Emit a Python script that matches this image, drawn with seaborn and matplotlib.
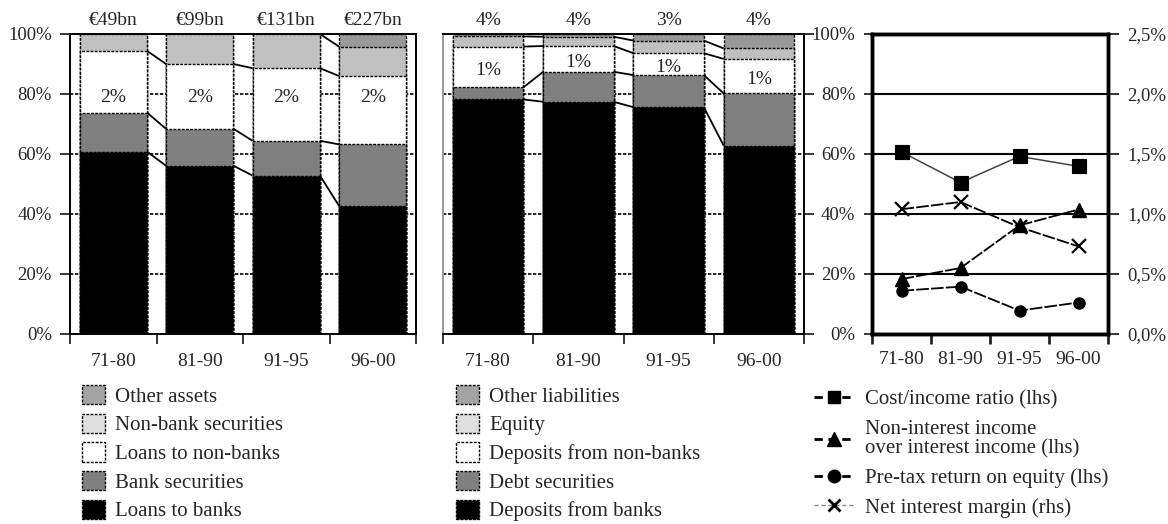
import numpy as np
import matplotlib
matplotlib.use("Agg")
import matplotlib.pyplot as plt
import matplotlib.patches as mpatches
from matplotlib.lines import Line2D
from matplotlib.ticker import FixedLocator, NullFormatter, FixedFormatter
import seaborn as sns

# ---------------- data ----------------
periods = ["71-80", "81-90", "91-95", "96-00"]

# assets (% of total), bottom -> top
loans_to_banks      = [60.8, 56.1, 52.8, 42.7]
bank_securities     = [13.0, 12.3, 11.6, 20.5]
loans_to_nonbanks   = [20.6, 21.6, 24.2, 22.8]
nonbank_securities  = [5.6, 10.0, 11.4, 9.8]
other_assets        = [0.0, 0.0, 0.0, 4.2]
asset_totals = ["€49bn", "€99bn", "€131bn", "€227bn"]
asset_inner = ["2%", "2%", "2%", "2%"]

# liabilities (% of total), bottom -> top
deposits_from_banks    = [78.2, 77.4, 75.6, 62.8]
debt_securities        = [4.0, 10.0, 10.7, 17.4]
deposits_from_nonbanks = [13.6, 8.6, 7.3, 11.5]
equity                 = [3.4, 3.1, 4.2, 3.5]
other_liabilities      = [0.8, 0.9, 2.2, 4.8]
liab_top = ["4%", "4%", "3%", "4%"]
liab_inner = ["1%", "1%", "1%", "1%"]

# profitability
cost_income   = [60.7, 50.5, 59.2, 55.9]   # lhs %
nonint_int    = [18.3, 22.0, 36.2, 41.5]   # lhs %
pretax_roe    = [14.4, 15.8, 7.8, 10.5]    # lhs %
net_int_margin = [1.04, 1.10, 0.89, 0.73]  # rhs %

asset_names = ["Loans to banks", "Bank securities", "Loans to non-banks",
               "Non-bank securities", "Other assets"]
liab_names = ["Deposits from banks", "Debt securities", "Deposits from non-banks",
              "Equity", "Other liabilities"]
seg_colors = ["#000000", "#808080", "#ffffff", "#c0c0c0", "#999999"]
legend_colors = ["#000000", "#808080", "#ffffff", "#dedede", "#a4a4a4"]

# ---------------- style ----------------
sns.set_style("white")
plt.rcParams["font.family"] = ["Liberation Serif", "DejaVu Serif"]
plt.rcParams["axes.linewidth"] = 1.2

fig = plt.figure(figsize=(11.68, 5.24), dpi=100)
W, H = 1168.0, 524.0
def box(x0, x1, ytop=34, ybot=334):
    return [x0 / W, (H - ybot) / H, (x1 - x0) / W, (ybot - ytop) / H]

ax1 = fig.add_axes(box(70, 416))
ax2 = fig.add_axes(box(443, 804))
ax3 = fig.add_axes(box(872, 1108))

BW = 0.78
DASH = (0, (2, 1))
TICK_FS = 14
YT_FS = 13.5

def stacked(ax, series, top_labels, inner_labels, inner_y):
    series = [np.asarray(s, float) for s in series]
    cums = np.cumsum(series, axis=0)
    # draw from tallest cumulative down so lower segments overlay
    for k in range(len(series) - 1, -1, -1):
        sns.barplot(x=periods, y=cums[k], color=seg_colors[k], saturation=1,
                    width=BW, edgecolor="black", linewidth=1.0, linestyle=DASH,
                    errorbar=None, ax=ax, zorder=2)
    # connectors between bars
    for k in range(len(series)):
        for i in range(len(periods) - 1):
            ax.plot([i + BW / 2, i + 1 - BW / 2], [cums[k][i], cums[k][i + 1]],
                    color="black", lw=1.3, zorder=3, solid_capstyle="butt")
    for i, t in enumerate(top_labels):
        ax.text(i, 101.8, t, ha="center", va="bottom", fontsize=TICK_FS)
    for i, t in enumerate(inner_labels):
        ax.text(i, inner_y[i], t, ha="center", va="center", fontsize=TICK_FS, zorder=4)
    ax.set_xlim(-0.5, len(periods) - 0.5)
    ax.set_ylim(0, 100)
    ax.set_xlabel("")
    ax.set_ylabel("")
    ax.set_axisbelow(True)
    ax.yaxis.grid(True, color="black", lw=1.2, linestyle=DASH)
    ax.xaxis.grid(False)
    for sp in ax.spines.values():
        sp.set_visible(True)
        sp.set_linestyle(DASH)
        sp.set_color("black")
        sp.set_linewidth(1.4)
    return cums

def cat_ticks(ax):
    n = len(periods)
    ax.xaxis.set_major_locator(FixedLocator(np.arange(n + 1) - 0.5))
    ax.xaxis.set_major_formatter(NullFormatter())
    ax.xaxis.set_minor_locator(FixedLocator(np.arange(n)))
    ax.xaxis.set_minor_formatter(FixedFormatter(periods))
    ax.tick_params(axis="x", which="major", direction="out", length=7, width=1.3, bottom=True)
    ax.tick_params(axis="x", which="minor", length=0, pad=14, labelsize=TICK_FS, bottom=True)

pct_ticks = [0, 20, 40, 60, 80, 100]

# ---- panel 1: assets ----
cums1 = stacked(ax1, [loans_to_banks, bank_securities, loans_to_nonbanks,
                      nonbank_securities, other_assets],
                asset_totals, asset_inner, [79] * 4)
ax1.set_yticks(pct_ticks)
ax1.set_yticklabels([f"{v}%" for v in pct_ticks], fontsize=YT_FS)
ax1.tick_params(axis="y", direction="out", length=7, width=1.3, left=True, pad=6)
cat_ticks(ax1)

# ---- panel 2: liabilities ----
wl = np.asarray(deposits_from_banks) + np.asarray(debt_securities)
wt = wl + np.asarray(deposits_from_nonbanks)
cums2 = stacked(ax2, [deposits_from_banks, debt_securities, deposits_from_nonbanks,
                      equity, other_liabilities],
                liab_top, liab_inner, list((wl + wt) / 2 - 1.2))
ax2.set_yticks(pct_ticks)
ax2.yaxis.tick_right()
ax2.tick_params(axis="y", direction="out", length=7, width=1.3, right=True,
                left=False, labelright=False, labelleft=False)
ax2.spines["left"].set_color("#999999")
cat_ticks(ax2)

# ---- panel 3: profitability ----
LS = (0, (7, 1.2))
sns.pointplot(x=periods, y=cost_income, color="black", markers="s", linestyles="-",
              errorbar=None, markersize=10, linewidth=1.1, ax=ax3)
ax3.lines[-1].set_color("#444444"); ax3.lines[-1].set_markerfacecolor("black"); ax3.lines[-1].set_markeredgecolor("black")
sns.pointplot(x=periods, y=nonint_int, color="black", markers="^", linestyles="-",
              errorbar=None, markersize=10, linewidth=1.3, ax=ax3)
ax3.lines[-1].set_linestyle(LS)
sns.pointplot(x=periods, y=pretax_roe, color="black", markers="o", linestyles="-",
              errorbar=None, markersize=8, linewidth=1.3, ax=ax3)
ax3.lines[-1].set_linestyle(LS)
ax3.set_ylim(0, 100)
ax3.set_xlim(-0.5, len(periods) - 0.5)
ax3.set_xlabel(""); ax3.set_ylabel("")
ax3.set_yticks(pct_ticks)
ax3.set_yticklabels([f"{v}%" for v in pct_ticks], fontsize=YT_FS)
ax3.tick_params(axis="y", direction="out", length=6, width=1.3, left=True, pad=6)
ax3.yaxis.grid(True, color="black", lw=1.5, linestyle="-")
ax3.xaxis.grid(False)
ax3.set_axisbelow(True)
cat_ticks(ax3)
ax3.tick_params(axis="x", which="major", width=2)
ax3.tick_params(axis="x", which="minor", pad=12)
for sp in ax3.spines.values():
    sp.set_visible(True); sp.set_linewidth(2.5); sp.set_color("black")

ax3r = ax3.twinx()
sns.pointplot(x=periods, y=net_int_margin, color="black", markers="x", linestyles="-",
              errorbar=None, markersize=10, linewidth=1.3, ax=ax3r)
ax3r.lines[-1].set_linestyle(LS)
ax3r.lines[-1].set_markeredgewidth(1.6)
ax3r.set_ylim(0, 2.5)
ax3r.set_xlim(-0.5, len(periods) - 0.5)
ax3r.set_ylabel("")
rticks = [0, 0.5, 1.0, 1.5, 2.0, 2.5]
ax3r.set_yticks(rticks)
ax3r.set_yticklabels([f"{v:.1f}%".replace(".", ",") for v in rticks], fontsize=YT_FS)
ax3r.tick_params(axis="y", direction="out", length=8, width=1.3, right=True, pad=6)
ax3r.grid(False)
for sp in ax3r.spines.values():
    sp.set_visible(True); sp.set_linewidth(2.5); sp.set_color("black")

# ---------------- legends ----------------
def patch_handles(names):
    hs = []
    for k in range(len(names) - 1, -1, -1):
        hs.append(mpatches.Patch(facecolor=legend_colors[k], edgecolor="black",
                                 linestyle=DASH, linewidth=1.0, label=names[k]))
    return hs

leg_kw = dict(loc="upper left", frameon=False, fontsize=15, handlelength=1.1,
              handleheight=1.05, handletextpad=0.5, labelspacing=0.33,
              borderpad=0, borderaxespad=0)
fig.legend(handles=patch_handles(asset_names), bbox_to_anchor=(82 / W, 1 - 385 / H), **leg_kw)
fig.legend(handles=patch_handles(liab_names), bbox_to_anchor=(456 / W, 1 - 385 / H), **leg_kw)

LD = (0, (3, 2))
lh = [
    Line2D([], [], color="black", lw=2, linestyle=LD, marker="s", markersize=9),
    Line2D([], [], color="black", lw=2, linestyle=LD, marker="^", markersize=10),
    Line2D([], [], color="black", lw=2, linestyle=LD, marker="o", markersize=9),
    Line2D([], [], color="#888888", lw=1, linestyle=LD, marker="x", markersize=8,
           markeredgecolor="black", markeredgewidth=2),
]
ll = ["Cost/income ratio (lhs)", "Non-interest income\nover interest income (lhs)",
      "Pre-tax return on equity (lhs)", "Net interest margin (rhs)"]
leg3 = fig.legend(handles=lh, labels=ll, loc="upper left", frameon=False, fontsize=15,
                  handlelength=1.9, handletextpad=0.55, labelspacing=0.48,
                  borderpad=0, borderaxespad=0, bbox_to_anchor=(814 / W, 1 - 390 / H))
for t in leg3.get_texts():
    t.set_linespacing(1.02)

fig.savefig("out.png", dpi=100)
